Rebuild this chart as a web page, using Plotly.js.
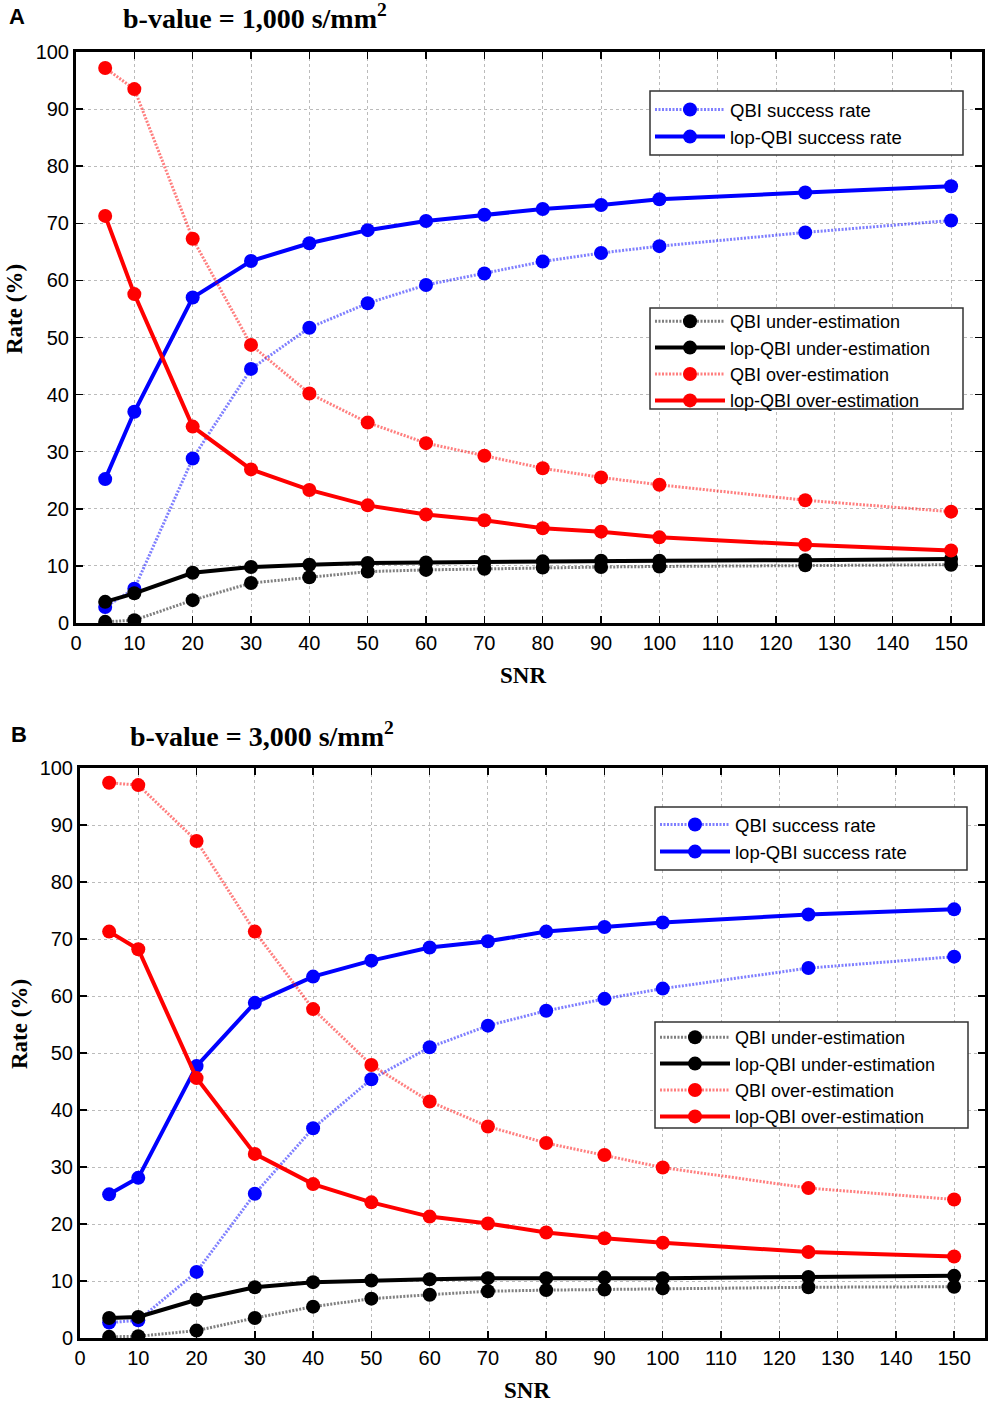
<!DOCTYPE html>
<html>
<head>
<meta charset="utf-8">
<script src="https://cdn.plot.ly/plotly-3.0.1.min.js"></script>
<style>
  html, body { margin: 0; padding: 0; background: #fff; }
  #plot { width: 992px; height: 1402px; }
</style>
</head>
<body>
<div id="plot"></div>
<script>
// SNR levels shared by both panels
var snr = [5, 10, 20, 30, 40, 50, 60, 70, 80, 90, 100, 125, 150];

// Panel A: b-value = 1,000 s/mm2
var a_qbi_success   = [2.8, 6.0, 28.8, 44.5, 51.7, 56.0, 59.2, 61.2, 63.3, 64.8, 66.0, 68.4, 70.5];
var a_lop_success   = [25.2, 37.0, 57.0, 63.4, 66.5, 68.8, 70.4, 71.5, 72.5, 73.2, 74.2, 75.4, 76.5];
var a_qbi_under     = [0.2, 0.5, 4.0, 7.0, 8.0, 9.0, 9.3, 9.5, 9.7, 9.8, 9.9, 10.1, 10.2];
var a_lop_under     = [3.7, 5.2, 8.8, 9.8, 10.2, 10.5, 10.6, 10.7, 10.8, 10.9, 10.9, 11.0, 11.2];
var a_qbi_over      = [97.2, 93.5, 67.3, 48.7, 40.2, 35.1, 31.5, 29.3, 27.1, 25.5, 24.2, 21.5, 19.5];
var a_lop_over      = [71.3, 57.6, 34.4, 26.9, 23.3, 20.6, 19.0, 18.0, 16.6, 16.0, 15.0, 13.7, 12.7];

// Panel B: b-value = 3,000 s/mm2
var b_qbi_success   = [2.7, 3.1, 11.6, 25.3, 36.8, 45.4, 51.0, 54.8, 57.4, 59.5, 61.3, 64.9, 66.9];
var b_lop_success   = [25.2, 28.1, 47.7, 58.8, 63.4, 66.2, 68.5, 69.6, 71.3, 72.1, 72.9, 74.3, 75.2];
var b_qbi_under     = [0.2, 0.3, 1.3, 3.5, 5.5, 6.9, 7.6, 8.2, 8.4, 8.5, 8.7, 8.9, 9.0];
var b_lop_under     = [3.5, 3.7, 6.7, 8.9, 9.8, 10.1, 10.3, 10.5, 10.5, 10.6, 10.5, 10.7, 10.9];
var b_qbi_over      = [97.4, 97.0, 87.2, 71.3, 57.7, 47.9, 41.5, 37.1, 34.2, 32.1, 29.9, 26.3, 24.3];
var b_lop_over      = [71.3, 68.2, 45.6, 32.3, 27.0, 23.8, 21.3, 20.1, 18.5, 17.5, 16.7, 15.1, 14.3];

var xticks = [0, 10, 20, 30, 40, 50, 60, 70, 80, 90, 100, 110, 120, 130, 140, 150];
var yticks = [0, 10, 20, 30, 40, 50, 60, 70, 80, 90, 100];

var W = 992, H = 1402;
function px(x) { return x / W; }
function py(y) { return 1 - y / H; }

function makeTrace(y, name, color, dotted, xa, ya, leg) {
  return {
    x: snr,
    y: y,
    name: name,
    type: "scatter",
    mode: "lines+markers",
    xaxis: xa,
    yaxis: ya,
    legend: leg,
    marker: { size: 14, color: color },
    line: dotted
      ? { width: 3, dash: "2px,1.5px", color: color.replace("rgb", "rgba").replace(")", ",0.5)") }
      : { width: 4, color: color }
  };
}

var blue = "rgb(0,0,255)", black = "rgb(0,0,0)", red = "rgb(255,0,0)";

var traces = [
  makeTrace(a_qbi_success, "QBI success rate", blue, true, "x", "y", "legend"),
  makeTrace(a_lop_success, "lop-QBI success rate", blue, false, "x", "y", "legend"),
  makeTrace(a_qbi_under, "QBI under-estimation", black, true, "x", "y", "legend2"),
  makeTrace(a_lop_under, "lop-QBI under-estimation", black, false, "x", "y", "legend2"),
  makeTrace(a_qbi_over, "QBI over-estimation", red, true, "x", "y", "legend2"),
  makeTrace(a_lop_over, "lop-QBI over-estimation", red, false, "x", "y", "legend2"),

  makeTrace(b_qbi_success, "QBI success rate", blue, true, "x2", "y2", "legend3"),
  makeTrace(b_lop_success, "lop-QBI success rate", blue, false, "x2", "y2", "legend3"),
  makeTrace(b_qbi_under, "QBI under-estimation", black, true, "x2", "y2", "legend4"),
  makeTrace(b_lop_under, "lop-QBI under-estimation", black, false, "x2", "y2", "legend4"),
  makeTrace(b_qbi_over, "QBI over-estimation", red, true, "x2", "y2", "legend4"),
  makeTrace(b_lop_over, "lop-QBI over-estimation", red, false, "x2", "y2", "legend4")
];

var sans = "Liberation Sans, Arial, sans-serif";
var serif = "Liberation Serif, Times New Roman, serif";

function xAxis(domain, anchor) {
  return {
    domain: domain, anchor: anchor,
    range: [0, 155.3], tickvals: xticks,
    ticks: "inside", ticklen: 7, tickwidth: 1.5, tickcolor: "#000",
    showline: true, linewidth: 3, linecolor: "#000", mirror: "ticks",
    showgrid: true, gridcolor: "#bbb", griddash: "dot", gridwidth: 1,
    zeroline: false,
    tickfont: { family: sans, size: 20, color: "#000" }
  };
}

function yAxis(domain, anchor) {
  return {
    domain: domain, anchor: anchor,
    range: [0, 100], tickvals: yticks,
    ticks: "inside", ticklen: 7, tickwidth: 1.5, tickcolor: "#000",
    showline: true, linewidth: 3, linecolor: "#000", mirror: "ticks",
    showgrid: true, gridcolor: "#bbb", griddash: "dot", gridwidth: 1,
    zeroline: false,
    tickfont: { family: sans, size: 20, color: "#000" }
  };
}

function legendBox(x, y, size) {
  return {
    x: px(x), y: py(y), xanchor: "left", yanchor: "top",
    bgcolor: "rgba(0,0,0,0)", borderwidth: 0,
    font: { family: sans, size: size, color: "#000" },
    itemwidth: 70, tracegroupgap: 0
  };
}

// white boxes behind the legends (the legends draw on top of shapes)
function box(x0, y0, x1, y1) {
  return {
    type: "rect", xref: "paper", yref: "paper", layer: "above",
    x0: px(x0), x1: px(x1), y0: py(y0), y1: py(y1),
    fillcolor: "#fff", line: { color: "#333", width: 1.5 }
  };
}

function label(text, x, y, font, size, angle) {
  return {
    text: text, x: px(x), y: py(y), xref: "paper", yref: "paper",
    xanchor: "center", yanchor: "middle", showarrow: false, textangle: angle || 0,
    font: { family: font, size: size, color: "#000" }
  };
}

var layout = {
  width: W,
  height: H,
  margin: { l: 0, r: 0, t: 0, b: 0 },
  paper_bgcolor: "#fff",
  plot_bgcolor: "#fff",
  showlegend: true,
  xaxis: xAxis([px(76), px(982)], "y"),
  yaxis: yAxis([py(623), py(52)], "x"),
  xaxis2: xAxis([px(80), px(985)], "y2"),
  yaxis2: yAxis([py(1338), py(768)], "x2"),
  legend: legendBox(650, 91, 18.5),
  legend2: legendBox(650, 303, 18),
  legend3: legendBox(655, 806, 18.5),
  legend4: legendBox(655, 1019, 18),
  shapes: [
    box(650, 91, 963, 155),
    box(650, 308, 963, 409),
    box(655, 807, 967, 870),
    box(655, 1022, 968, 1128)
  ],
  annotations: [
    label("<b>A</b>", 17, 17, sans, 22),
    label("<b>b-value = 1,000 s/mm<sup>2</sup></b>", 255, 17, serif, 28),
    label("<b>Rate (%)</b>", 15, 309, serif, 23, -90),
    label("<b>SNR</b>", 523, 675, serif, 23),

    label("<b>B</b>", 19, 734, sans, 22),
    label("<b>b-value = 3,000 s/mm<sup>2</sup></b>", 262, 734, serif, 28),
    label("<b>Rate (%)</b>", 19, 1024, serif, 23, -90),
    label("<b>SNR</b>", 527, 1390, serif, 23)
  ]
};

Plotly.newPlot("plot", traces, layout, { displayModeBar: false, staticPlot: true });
</script>
</body>
</html>
